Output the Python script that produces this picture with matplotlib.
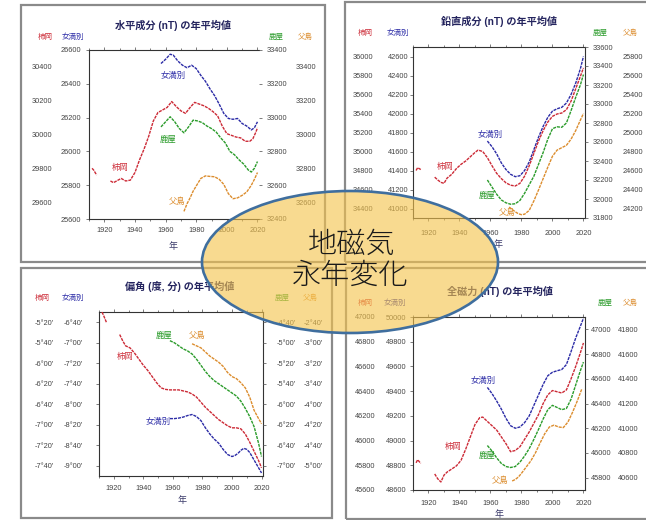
import numpy as np
import matplotlib
matplotlib.use('Agg')
import matplotlib.pyplot as plt
from matplotlib.patches import Ellipse, Rectangle
from matplotlib.ticker import FuncFormatter, MultipleLocator

plt.rcParams['font.family'] = ['Liberation Sans', 'Noto Sans CJK JP']

W, H = 646, 520
nan = np.nan

stations = ['柿岡', '女満別', '鹿屋', '父島']
colors = ['#cc2a36', '#2b2ba6', '#2a9b2a', '#dc8d2e']

# --- 水平成分 H (nT)
h_kak_yr = [1912, 1913, 1915, 1920, 1924, 1926, 1929, 1931, 1934, 1937, 1940, 1943, 1946, 1949, 1952, 1955,
            1958, 1961, 1964, 1967, 1970, 1973, 1976, 1979, 1982, 1985, 1988, 1991, 1994, 1997, 2000, 2003,
            2006, 2009, 2012, 2015, 2017, 2019, 2020]
h_kak = [29800, 29790, 29760, nan, 29725, 29715, 29730, 29740, 29725, 29730, 29775, 29850, 29915, 29990, 30080,
         30130, 30145, 30160, 30195, 30165, 30140, 30125, 30160, 30190, 30180, 30170, 30155, 30135, 30110, 30050,
         30005, 29995, 29985, 29980, 29960, 29960, 29975, 30015, 30040]
h_mem_yr = [1957, 1960, 1963, 1965, 1968, 1971, 1974, 1977, 1980, 1983, 1986, 1989, 1992, 1995, 1998, 2001,
            2004, 2007, 2010, 2013, 2016, 2018, 2020]
h_mem = [26520, 26545, 26575, 26570, 26535, 26510, 26495, 26510, 26490, 26450, 26415, 26370, 26330, 26280,
         26225, 26195, 26190, 26195, 26165, 26150, 26127, 26140, 26175]
h_kan_yr = [1957, 1960, 1963, 1966, 1969, 1972, 1975, 1978, 1981, 1984, 1987, 1990, 1993, 1996, 1999, 2002,
            2005, 2008, 2011, 2014, 2016, 2018, 2020]
h_kan = [32945, 32975, 33005, 32975, 32935, 32910, 32945, 32985, 32980, 32970, 32950, 32935, 32915, 32880,
         32850, 32800, 32780, 32750, 32725, 32690, 32678, 32700, 32740]
h_chi_yr = [1972, 1974, 1976, 1978, 1980, 1983, 1986, 1989, 1992, 1995, 1998, 2001, 2004, 2007, 2010, 2013,
            2016, 2018, 2020]
h_chi = [32545, 32590, 32625, 32665, 32695, 32740, 32755, 32752, 32750, 32735, 32705, 32650, 32620, 32625,
         32640, 32660, 32700, 32735, 32775]

# --- 鉛直成分 Z (nT)
z_kak_yr = [1912, 1913, 1915, 1920, 1924, 1926, 1928, 1930, 1932, 1935, 1938, 1941, 1944, 1947, 1950, 1952,
            1955, 1958, 1961, 1964, 1967, 1970, 1973, 1976, 1979, 1982, 1985, 1988, 1991, 1994, 1997, 2000,
            2003, 2006, 2009, 2012, 2015, 2018, 2020]
z_kak = [34800, 34830, 34810, nan, 34730, 34700, 34675, 34665, 34720, 34760, 34820, 34865, 34900, 34945, 34990,
         35015, 35000, 34935, 34850, 34770, 34715, 34670, 34645, 34637, 34665, 34740, 34850, 34980, 35110, 35220,
         35310, 35370, 35395, 35405, 35440, 35530, 35660, 35790, 35880]
z_mem_yr = [1958, 1961, 1964, 1967, 1970, 1973, 1976, 1979, 1982, 1985, 1988, 1991, 1994, 1997, 2000, 2003,
            2006, 2009, 2012, 2015, 2018, 2020]
z_mem = [41710, 41650, 41575, 41480, 41410, 41360, 41335, 41345, 41400, 41490, 41620, 41750, 41865, 41960,
         42025, 42050, 42065, 42110, 42200, 42320, 42470, 42600]
z_kan_yr = [1958, 1961, 1964, 1967, 1970, 1973, 1976, 1979, 1982, 1985, 1988, 1991, 1994, 1997, 2000, 2003,
            2006, 2009, 2012, 2015, 2018, 2020]
z_kan = [32200, 32125, 32050, 31990, 31960, 31945, 31950, 31985, 32060, 32150, 32240, 32365, 32490, 32630,
         32740, 32760, 32755, 32800, 32930, 33070, 33200, 33310]
z_chi_yr = [1972, 1974, 1976, 1978, 1980, 1982, 1985, 1988, 1991, 1994, 1997, 2000, 2003, 2006, 2009, 2012,
            2015, 2018, 2020]
z_chi = [24215, 24190, 24165, 24145, 24135, 24140, 24180, 24280, 24395, 24515, 24635, 24750, 24815, 24840,
         24865, 24930, 25020, 25130, 25200]

# --- 偏角 D (分, 西偏はマイナス)
d_kak_yr = [1912, 1913, 1915, 1920, 1924, 1926, 1928, 1931, 1934, 1937, 1940, 1943, 1946, 1949, 1952, 1955,
            1958, 1961, 1964, 1967, 1970, 1973, 1976, 1979, 1982, 1985, 1988, 1991, 1994, 1997, 2000, 2003,
            2006, 2009, 2012, 2015, 2018, 2020]
d_kak = [-310, -313, -320, nan, -332, -338, -343, -345, -350, -356, -362, -367, -373, -379, -384, -385.5,
         -386, -386, -386, -387, -388, -390, -393, -398, -403, -407, -411, -415, -418, -421, -423, -423,
         -424, -429, -437, -446, -455, -462]
d_mem_yr = [1958, 1961, 1964, 1967, 1970, 1973, 1976, 1979, 1982, 1985, 1988, 1991, 1994, 1997, 2000, 2002,
            2004, 2006, 2008, 2010, 2012, 2014, 2016, 2018, 2020]
d_mem = [-494, -494, -493.5, -492.5, -491, -490, -492, -496, -503, -509, -514, -518, -524, -529, -531, -530,
         -528, -525, -523, -524, -527, -532, -537, -542, -547]
d_kan_yr = [1958, 1961, 1964, 1967, 1970, 1973, 1976, 1979, 1982, 1985, 1988, 1991, 1994, 1997, 2000, 2003,
            2006, 2009, 2012, 2015, 2018, 2020]
d_kan = [-298, -300, -303, -306, -308, -311, -316, -322, -328, -333, -337, -340, -343, -346, -349, -352,
         -357, -364, -372, -382, -398, -411]
d_chi_yr = [1973, 1976, 1979, 1982, 1985, 1988, 1991, 1994, 1997, 2000, 2003, 2006, 2009, 2012, 2015, 2018, 2020]
d_chi = [-181, -183, -185, -189, -193, -196, -199, -203, -209, -213, -215, -219, -224, -233, -246, -254, -259]

# --- 全磁力 F (nT)
f_kak_yr = [1912, 1913, 1915, 1920, 1924, 1926, 1928, 1930, 1932, 1935, 1938, 1941, 1944, 1947, 1950, 1953,
            1955, 1958, 1961, 1964, 1967, 1970, 1973, 1976, 1979, 1982, 1985, 1988, 1991, 1994, 1997, 2000,
            2003, 2006, 2009, 2012, 2015, 2018, 2020]
f_kak = [45820, 45845, 45815, nan, 45730, 45690, 45665, 45720, 45745, 45770, 45795, 45840, 45930, 46030, 46130,
         46185, 46190, 46155, 46120, 46085, 46030, 45975, 45910, 45920, 45950, 46010, 46070, 46140, 46210, 46300,
         46370, 46405, 46395, 46385, 46410, 46500, 46600, 46710, 46790]
f_mem_yr = [1958, 1961, 1964, 1967, 1970, 1973, 1976, 1979, 1982, 1985, 1988, 1991, 1994, 1997, 2000, 2003,
            2006, 2009, 2012, 2015, 2018, 2020]
f_mem = [49430, 49380, 49320, 49255, 49180, 49120, 49100, 49110, 49145, 49200, 49285, 49370, 49455, 49525,
         49553, 49565, 49575, 49615, 49720, 49830, 49925, 49990]
f_kan_yr = [1958, 1961, 1964, 1967, 1970, 1973, 1976, 1979, 1982, 1985, 1988, 1991, 1994, 1997, 2000, 2003,
            2006, 2009, 2012, 2015, 2018, 2020]
f_kan = [46060, 46015, 45960, 45915, 45890, 45882, 45890, 45925, 45975, 46035, 46110, 46190, 46275, 46350,
         46385, 46368, 46350, 46360, 46435, 46550, 46665, 46735]
f_chi_yr = [1974, 1976, 1978, 1980, 1983, 1986, 1989, 1992, 1995, 1998, 2001, 2004, 2007, 2010, 2013, 2016, 2019]
f_chi = [40573, 40585, 40605, 40635, 40685, 40735, 40800, 40880, 40955, 41010, 41025, 41010, 41005, 41050,
         41130, 41220, 41320]


def frac(x, y):
    return x / W, 1 - y / H


def box(x0, y0, x1, y1):
    return [x0 / W, 1 - y1 / H, (x1 - x0) / W, (y1 - y0) / H]


def dm(v, pos=None):  # 分 -> 度分表記
    v = int(round(v))
    s = '-' if v < 0 else ''
    v = abs(v)
    return "%s%d°%02d'" % (s, v // 60, v % 60)


def panel(p):
    x0, y0, x1, y1 = p['frame']
    fig.patches.append(Rectangle(frac(x0, y1), (x1 - x0) / W, (y1 - y0) / H, transform=fig.transFigure,
                                 fill=False, ec='#8a8a8a', lw=1.6, zorder=0))
    ax = fig.add_axes(box(*p['area']))
    # 柿岡(外左) 女満別(内左) 鹿屋(内右) 父島(外右)
    axs = [ax.twinx(), ax, ax.twinx(), ax.twinx()]
    axs[0].yaxis.tick_left()
    for k, a in enumerate(axs):
        yr, val = p['series'][k]
        # 年ごとの点をつないだ点線風
        a.plot(yr, val, color=colors[k], lw=1.0, ls=(0, (2.2, 0.7)))
        a.set_ylim(p['lims'][k])
        a.set_yticks(p['ticks'][k])
        if p.get('fmt'):
            a.yaxis.set_major_formatter(FuncFormatter(p['fmt']))
        inner = k in (1, 2)
        tl = 2.0 if inner else 0
        a.tick_params(axis='y', direction='out', length=tl, width=0.6, color='#666666',
                      pad=p['pads'][k] * 0.72 - tl, labelsize=5.3, labelcolor='#444444')
        if a is not ax:
            for s in a.spines.values():
                s.set_visible(False)
    ax.set_xlim(1910, 2021)
    ax.set_xticks(range(1920, 2021, 20))
    ax.xaxis.set_minor_locator(MultipleLocator(10))
    ax.tick_params(axis='x', which='both', direction='out', top=True, color='#666666', width=0.6,
                   labelsize=5.3, labelcolor='#444444', pad=p['xpad'])
    ax.tick_params(axis='x', which='major', length=2.5)
    ax.tick_params(axis='x', which='minor', length=1.5)
    for s in ax.spines.values():
        s.set_color('#333333')
        s.set_linewidth(0.8)
    if not p['right']:
        ax.spines['right'].set_visible(False)
    ax.patch.set_visible(False)

    tx, ty = frac(*p['title'])
    fig.text(tx, ty, p['name'], ha='center', va='center', fontsize=7.3, fontweight='bold', color='#24245e')
    for k in range(4):
        hx, hy = frac(*p['heads'][k])
        fig.text(hx, hy, stations[k], ha='center', va='center', fontsize=5.4, color=colors[k])
        lx, ly = frac(*p['labels'][k])
        fig.text(lx, ly, stations[k], ha='center', va='center', fontsize=6, color=colors[k])
    nx, ny = frac(*p['xlab'])
    fig.text(nx, ny, '年', ha='center', va='center', fontsize=6.5, color='#3a3a6a')


fig = plt.figure(figsize=(W / 100, H / 100), dpi=100)

panels = [
    dict(name='水平成分 (nT) の年平均値', frame=(21, 5, 325, 262), area=(89, 50, 259, 219), right=False,
         series=[(h_kak_yr, h_kak), (h_mem_yr, h_mem), (h_kan_yr, h_kan), (h_chi_yr, h_chi)],
         lims=[(29500, 30500), (25600, 26600), (32400, 33400), (32500, 33500)],
         ticks=[range(29600, 30401, 200), range(25600, 26601, 200), range(32400, 33401, 200),
                range(32600, 33401, 200)],
         pads=[37, 8, 8, 37], xpad=3, title=(173, 25), xlab=(173, 246),
         heads=[(45, 37), (73, 37), (276, 37), (305, 37)],
         labels=[(120, 168), (173, 76), (168, 140), (177, 202)]),
    dict(name='鉛直成分 (nT) の年平均値', frame=(345, 2, 652, 262), area=(413, 47, 585, 218), right=True,
         series=[(z_kak_yr, z_kak), (z_mem_yr, z_mem), (z_kan_yr, z_kan), (z_chi_yr, z_chi)],
         lims=[(34300, 36100), (40900, 42700), (31800, 33600), (24100, 25900)],
         ticks=[range(34400, 36001, 200), range(41000, 42601, 200), range(31800, 33601, 200),
                range(24200, 25801, 200)],
         pads=[40, 5, 8, 38], xpad=6, title=(499, 21), xlab=(498, 245),
         heads=[(365, 33), (398, 33), (600, 33), (630, 33)],
         labels=[(445, 167), (490, 135), (487, 196), (507, 213)]),
    dict(name='偏角 (度, 分) の年平均値', frame=(21, 268, 332, 518), area=(99, 312, 263, 476), right=True,
         series=[(d_kak_yr, d_kak), (d_mem_yr, d_mem), (d_kan_yr, d_kan), (d_chi_yr, d_chi)],
         lims=[(-470, -310), (-550, -390), (-430, -270), (-310, -150)],
         ticks=[range(-460, -319, 20), range(-540, -399, 20), range(-420, -279, 20), range(-300, -159, 20)],
         fmt=dm, pads=[45, 16, 14, 41], xpad=4, title=(180, 286), xlab=(182, 500),
         heads=[(42, 298), (73, 298), (282, 298), (310, 298)],
         labels=[(125, 357), (158, 422), (164, 336), (197, 336)]),
    dict(name='全磁力 (nT) の年平均値', frame=(346, 268, 652, 519), area=(413, 317, 585, 490), right=True,
         series=[(f_kak_yr, f_kak), (f_mem_yr, f_mem), (f_kan_yr, f_kan), (f_chi_yr, f_chi)],
         lims=[(45600, 47000), (48600, 50000), (45700, 47100), (40500, 41900)],
         ticks=[range(45600, 47001, 200), range(48600, 50001, 200), range(45800, 47001, 200),
                range(40600, 41801, 200)],
         pads=[38, 7, 6, 33], xpad=5, title=(500, 291), xlab=(499, 515),
         heads=[(365, 303), (395, 303), (605, 303), (630, 303)],
         labels=[(453, 447), (483, 381), (487, 456), (500, 481)]),
]

for p in panels:
    panel(p)

# 中央の楕円と見出し
ex, ey = frac(350, 262)
fig.patches.append(Ellipse((ex, ey), 296 / W, 142 / H, transform=fig.transFigure,
                           fc=(0.96, 0.77, 0.30, 0.62), ec='#3f6e9e', lw=1.9, zorder=10))
tx, ty = frac(352, 245)
fig.text(tx, ty, '地磁気', ha='center', va='center', fontsize=21, fontweight='light', color='#1a1a1a',
         zorder=11, family=['Noto Sans CJK JP'])
tx, ty = frac(350, 276)
fig.text(tx, ty, '永年変化', ha='center', va='center', fontsize=21, fontweight='light', color='#1a1a1a',
         zorder=11, family=['Noto Sans CJK JP'])

fig.savefig('out.png', dpi=100)
